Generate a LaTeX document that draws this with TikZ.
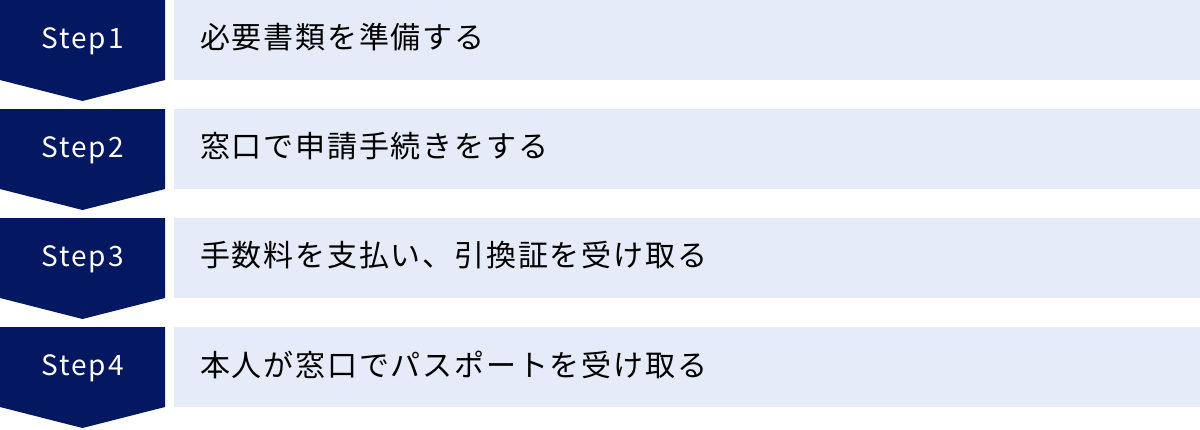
\documentclass[tikz,border=0pt]{standalone}
\usepackage{fontspec}
\setmainfont{Noto Sans CJK JP}
\newfontfamily\jpfont[LetterSpace=6]{Noto Sans CJK JP}
\newfontfamily\stepfont[LetterSpace=7]{Noto Sans CJK JP}
\definecolor{navy}{HTML}{041761}
\definecolor{pale}{HTML}{E5EBF8}
\tikzset{
  steplabel/.style={text=white, font=\stepfont\fontsize{28}{33}\selectfont, anchor=center, inner sep=0pt},
  tasklabel/.style={text=black, font=\jpfont\fontsize{30}{36}\selectfont, anchor=west, inner sep=0pt},
}
\begin{document}
\begin{tikzpicture}[x=1pt,y=-1pt]
\useasboundingbox (0,0) rectangle (1200,429);
\foreach \i/\txt in {1/必要書類を準備する,2/窓口で申請手続きをする,3/手数料を支払い、引換証を受け取る,4/本人が窓口でパスポートを受け取る}{
  \pgfmathsetmacro{\yy}{(\i-1)*109}
  \fill[navy] (0,\yy) -- (165,\yy) -- (165,\yy+80) -- (82.5,\yy+101) -- (0,\yy+80) -- cycle;
  \fill[pale] (174,\yy) rectangle (1200,\yy+80);
  \node[steplabel] (s\i) at (82.5,\yy+41) {Step\i};
  \node[tasklabel] (t\i) at (200,\yy+37.5) {\txt};
}
\end{tikzpicture}
\end{document}
